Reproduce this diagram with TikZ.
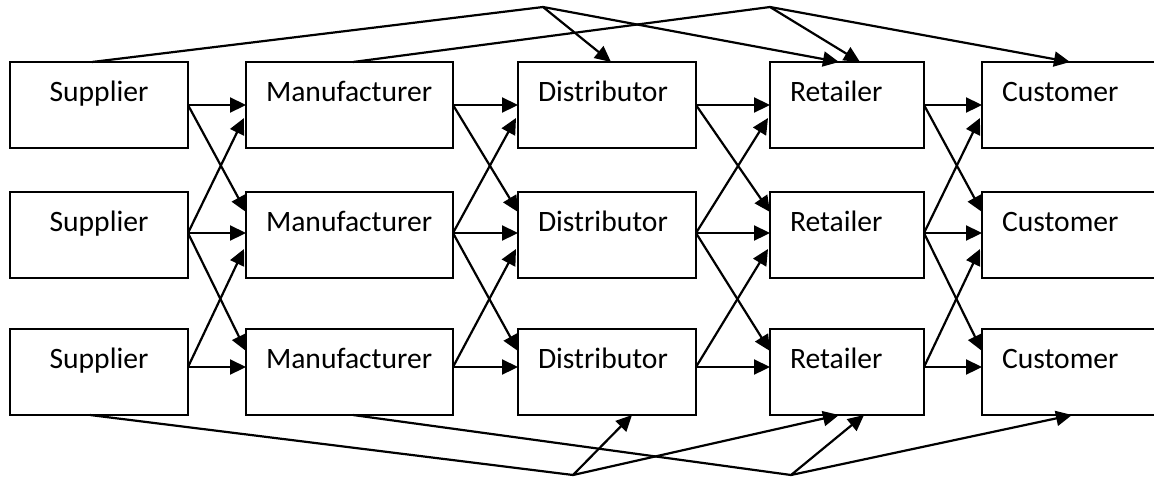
\documentclass[tikz,border=0pt]{standalone}
\usepackage{fontspec}
\setmainfont{Carlito}
\usetikzlibrary{calc,arrows.meta}

\tikzset{
  stagebox/.style={draw, line width=1.15pt, outer sep=0pt, inner xsep=10pt, inner ysep=0pt,
    text height=19.5pt, text depth=23.5pt, align=left, anchor=north west,
    font=\fontsize{14.8pt}{17pt}\selectfont},
  link/.style={line width=1.1pt},
  flow/.style={line width=1.1pt, -{Triangle[length=8pt,width=7.5pt]}}
}

\begin{document}
\begin{tikzpicture}[x=0.5pt, y=-0.5pt]
  \useasboundingbox (0,0) rectangle (1154,477);
  \fill[white] (0,0) rectangle (1154,477);
  \clip (0,0) rectangle (1154,477);

  % five stages, three boxes each
  \foreach \i/\top in {1/62, 2/192, 3/329} {
    \node[stagebox, text width=69pt, align=center] (s\i) at (10,\top)  {Supplier};
    \node[stagebox, text width=83.5pt] (m\i) at (246,\top) {Manufacturer};
    \node[stagebox, text width=69pt]   (d\i) at (518,\top) {Distributor};
    \node[stagebox, text width=57pt]   (r\i) at (770,\top) {Retailer};
    \node[stagebox, text width=80pt]   (c\i) at (982,\top) {Customer};
  }

  % links between neighbouring stages: straight and crossing
  \foreach \a/\b in {s/m, m/d, d/r, r/c} {
    % row 1
    \draw[flow] ($(\a1.north east)+(0,43)$) -- ($(\b1.north west)+(0,43)$);
    \draw[flow] ($(\a1.north east)+(0,43)$) -- ($(\b2.north west)+(0,20)$);
    % row 2
    \draw[flow] ($(\a2.north east)+(0,41)$) -- ($(\b2.north west)+(0,41)$);
    \draw[flow] ($(\a2.north east)+(0,41)$) -- ($(\b1.north west)+(-2,56)$);
    \draw[flow] ($(\a2.north east)+(0,41)$) -- ($(\b3.north west)+(0,22)$);
    % row 3
    \draw[flow] ($(\a3.north east)+(0,38)$) -- ($(\b3.north west)+(0,38)$);
    \draw[flow] ($(\a3.north east)+(0,38)$) -- ($(\b2.north west)+(-2,57)$);
  }

  % bypass links over the top
  \coordinate (topA) at (543,7);
  \coordinate (topB) at (770,7);
  \draw[link] ($(s1.north west)+(82,0)$) -- (topA);
  \draw[flow] (topA) -- ($(d1.north west)+(93,0)$);
  \draw[flow] (topA) -- ($(r1.north west)+(69,0)$);
  \draw[link] ($(m1.north west)+(107,0)$) -- (topB);
  \draw[flow] (topB) -- ($(r1.north west)+(90,0)$);
  \draw[flow] (topB) -- ($(c1.north west)+(88,0)$);

  % bypass links underneath
  \coordinate (botA) at (573,475);
  \coordinate (botB) at (791,475);
  \draw[link] ($(s3.south west)+(80,0)$) -- (botA);
  \draw[flow] (botA) -- ($(d3.south west)+(114,0)$);
  \draw[flow] (botA) -- ($(r3.south west)+(69,0)$);
  \draw[link] ($(m3.south west)+(107,0)$) -- (botB);
  \draw[flow] (botB) -- ($(r3.south west)+(94,0)$);
  \draw[flow] (botB) -- ($(c3.south west)+(90,0)$);
\end{tikzpicture}
\end{document}
